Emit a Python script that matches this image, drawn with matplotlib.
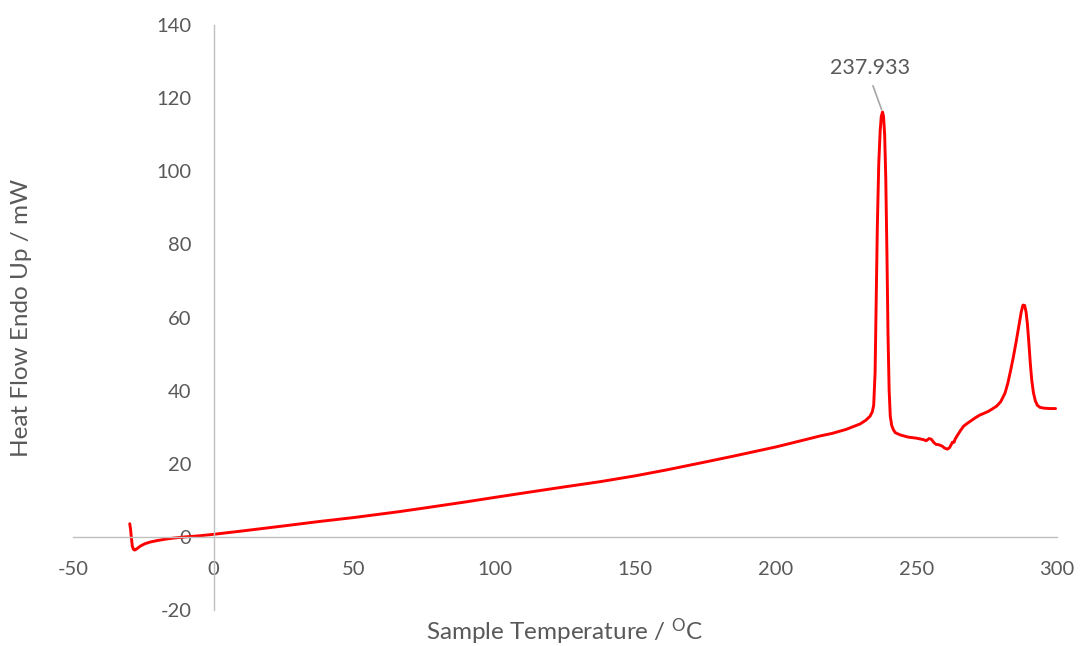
import matplotlib
matplotlib.use("Agg")
import matplotlib.pyplot as plt

# DSC trace: sample temperature (°C) vs heat flow (mW)
temperature = [
    -29.8, -29.5, -29.2, -28.9, -28.5, -28.0, -27.2, -26.0, -24.5, -22.5,
    -20.0, -17.0, -14.0, -10.0, -5.0, 0.0, 10.0, 25.0, 37.5, 50.0,
    66.0, 75.0, 90.0, 100.0, 113.7, 125.0, 137.5, 150.0, 161.0, 175.0,
    185.0, 200.0, 210.0, 215.7, 220.0, 225.0, 230.0, 232.0,
    233.5, 234.3, 234.8, 235.3, 235.7, 236.1, 236.6, 237.1, 237.5, 237.933,
    238.3, 238.7, 239.1, 239.5, 239.9, 240.3, 240.7, 241.2, 241.8, 242.5,
    244.2, 247.0, 250.0, 252.5, 253.5, 254.5, 255.3, 256.2, 257.0, 258.0,
    259.2, 260.0, 261.0, 261.8, 262.4, 262.8, 263.4, 263.8, 264.6, 265.6,
    266.8, 268.0, 269.5, 271.0, 272.5, 274.0, 275.5, 277.0, 278.6, 280.0,
    281.5, 282.5, 283.5, 284.5, 285.5, 286.5, 287.3, 287.9, 288.5, 289.0,
    289.5, 290.0, 290.5, 291.0, 291.6, 292.3, 293.0, 294.0, 295.5, 297.5,
    299.5,
]
heat_flow = [
    3.6, 2.0, -0.5, -2.5, -3.4, -3.6, -3.2, -2.5, -1.9, -1.4,
    -1.0, -0.6, -0.3, 0.0, 0.3, 0.7, 1.6, 3.0, 4.2, 5.3,
    6.9, 7.9, 9.6, 10.8, 12.4, 13.7, 15.1, 16.7, 18.3, 20.5,
    22.1, 24.6, 26.5, 27.6, 28.3, 29.4, 30.9, 31.9,
    33.0, 34.2, 36.0, 45.0, 65.0, 85.0, 102.0, 111.0, 115.0, 116.2,
    115.0, 110.0, 98.0, 78.0, 55.0, 40.0, 33.0, 30.5, 29.3, 28.5,
    27.9, 27.3, 27.0, 26.6, 26.3, 26.9, 26.7, 25.8, 25.3, 25.2,
    24.8, 24.3, 24.0, 24.4, 25.3, 25.9, 25.9, 26.8, 27.8, 29.0,
    30.3, 31.0, 31.8, 32.6, 33.3, 33.8, 34.3, 35.0, 35.8, 37.0,
    39.3, 42.0, 45.5, 49.3, 53.5, 58.0, 61.6, 63.4, 63.3, 61.5,
    58.0, 53.0, 47.5, 43.0, 39.5, 37.2, 36.0, 35.4, 35.2, 35.1,
    35.1,
]

peak_temperature = 237.933
peak_heat_flow = 116.2

x_ticks = [-50, 0, 50, 100, 150, 200, 250, 300]
y_ticks = [-20, 0, 20, 40, 60, 80, 100, 120, 140]

text_color = "#595959"
axis_color = "#bfbfbf"

plt.rcParams["font.family"] = ["Lato", "DejaVu Sans"]
plt.rcParams["mathtext.default"] = "regular"
plt.rcParams["axes.unicode_minus"] = False

fig = plt.figure(figsize=(10.81, 6.46), dpi=100)
ax = fig.add_axes([0.0675, 0.0557, 0.9103, 0.9056])

ax.plot(temperature, heat_flow, color="#ff0000", linewidth=2.1,
        solid_joinstyle="round", solid_capstyle="round")

ax.set_xlim(-50, 300)
ax.set_ylim(-20, 140)
ax.set_xticks(x_ticks)
ax.set_yticks(y_ticks)

for side in ("top", "right"):
    ax.spines[side].set_visible(False)
ax.spines["left"].set_position(("data", 0))
ax.spines["bottom"].set_position(("data", 0))
for side in ("left", "bottom"):
    ax.spines[side].set_color(axis_color)
    ax.spines[side].set_linewidth(1.0)

ax.tick_params(axis="both", length=0, labelsize=14.5, labelcolor=text_color)
ax.tick_params(axis="x", pad=17)
ax.tick_params(axis="y", pad=16)

ax.set_xlabel("Sample Temperature / $^{O}$C", fontsize=17.5, color=text_color)
ax.xaxis.set_label_coords(0.5, -0.038)
ax.xaxis.label.set_va("center")
ax.set_ylabel("Heat Flow Endo Up / mW", fontsize=17.5, color=text_color)
ax.yaxis.set_label_coords(-0.052, 0.5)
ax.yaxis.label.set_va("center")

ax.annotate(
    f"{peak_temperature:.3f}",
    xy=(peak_temperature, peak_heat_flow),
    xytext=(233.5, 128.3),
    ha="center", va="center", fontsize=15.5, color=text_color,
    arrowprops=dict(arrowstyle="-", color="#a6a6a6", linewidth=1.2,
                    shrinkA=4, shrinkB=2, relpos=(0.5, 0)),
)

fig.savefig("out.png", dpi=100)
